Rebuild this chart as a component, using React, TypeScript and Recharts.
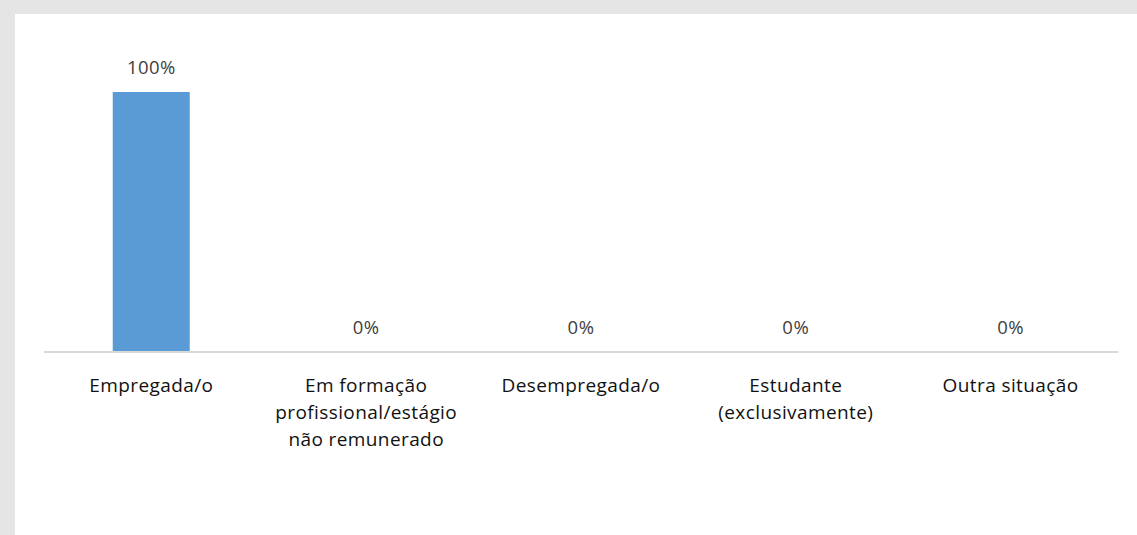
import { Bar, ComposedChart, Line, XAxis, YAxis, LabelList } from "recharts"

const categories = [
    "Empregada/o",
    "Em formação\nprofissional/estágio\nnão remunerado",
    "Desempregada/o",
    "Estudante\n(exclusivamente)",
    "Outra situação",
]
const shares = [100, 0, 0, 0, 0]

const data = categories.map((name, i) => ({ name, value: shares[i] }))

const FONT = "'Open Sans', sans-serif"

function CategoryTick(props: any) {
    const { x, y, payload } = props
    const lines = String(payload.value).split("\n")
    return (
        <text x={x} y={y} textAnchor="middle" fontFamily={FONT} fontSize={19} letterSpacing={0.4} fill="#111">
            {lines.map((line: string, i: number) => (
                <tspan key={i} x={x} dy={i === 0 ? 31.5 : 27}>
                    {line}
                </tspan>
            ))}
        </text>
    )
}

export default function App() {
    return (
        <div style={{ position: "absolute", left: 0, top: 0, width: 1137, height: 535, background: "#e5e5e5" }}>
            <div style={{ position: "absolute", left: 15, top: 14, width: 1122, height: 521, background: "#fff" }}>
                <ComposedChart
                    width={1122}
                    height={521}
                    data={data}
                    margin={{ top: 78, right: 19, bottom: 0, left: 29 }}
                    barCategoryGap="32%"
                >
                    <XAxis
                        dataKey="name"
                        interval={0}
                        height={183}
                        tickLine={false}
                        axisLine={{ stroke: "#d9d9d9", strokeWidth: 2 }}
                        tick={<CategoryTick />}
                    />
                    <YAxis hide domain={[0, 100]} />
                    <Bar dataKey="value" fill="#5b9bd5" isAnimationActive={false} />
                    {/* invisible series that carries the value labels, so 0% bars get theirs too */}
                    <Line dataKey="value" stroke="none" dot={false} activeDot={false} isAnimationActive={false}>
                        <LabelList
                            dataKey="value"
                            position="top"
                            offset={18.5}
                            formatter={(v: any) => `${v}%`}
                            style={{ fontFamily: FONT, fontSize: 18.5, letterSpacing: 0.5, fill: "#404040" }}
                        />
                    </Line>
                </ComposedChart>
            </div>
        </div>
    )
}
